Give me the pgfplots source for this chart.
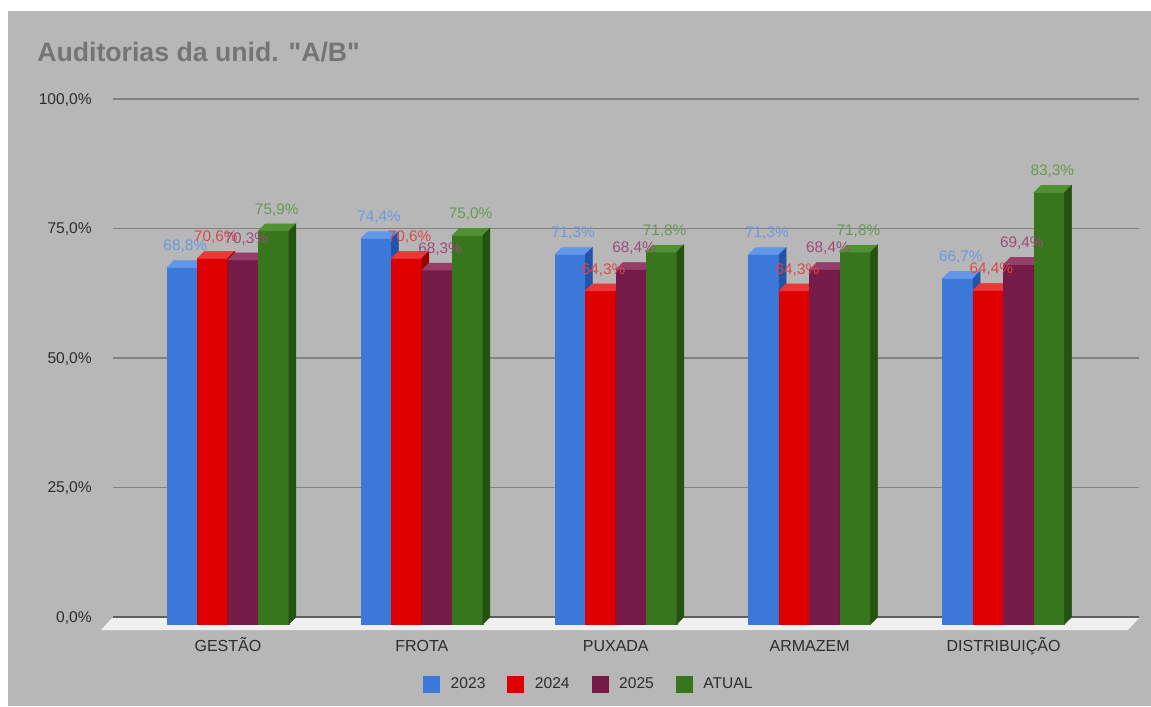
\documentclass[border=0pt]{standalone}
\usepackage{pgfplots}
\pgfplotsset{compat=1.18}
\usepackage{pgfplotstable}
\usepackage{fontspec}
\setmainfont{Liberation Sans}
\newfontfamily\titlefont[Ligatures=ResetAll]{Liberation Sans}

\definecolor{bggray}{RGB}{183,183,183}
\definecolor{floorc}{RGB}{240,240,240}
\definecolor{gridc}{RGB}{130,130,130}
\definecolor{zeroc}{RGB}{95,95,95}
\definecolor{titlec}{RGB}{117,117,117}
\definecolor{textc}{RGB}{45,45,45}
% blue
\definecolor{bF}{RGB}{60,120,216}
\definecolor{bT}{RGB}{98,150,232}
\definecolor{bS}{RGB}{35,84,165}
\definecolor{bL}{RGB}{110,152,228}
% red
\definecolor{rF}{RGB}{222,0,0}
\definecolor{rT}{RGB}{236,55,55}
\definecolor{rS}{RGB}{150,0,0}
\definecolor{rL}{RGB}{220,72,72}
% purple
\definecolor{pF}{RGB}{116,27,71}
\definecolor{pT}{RGB}{148,62,105}
\definecolor{pS}{RGB}{76,14,45}
\definecolor{pL}{RGB}{156,76,118}
% green
\definecolor{gF}{RGB}{56,118,29}
\definecolor{gT}{RGB}{80,145,50}
\definecolor{gS}{RGB}{36,82,16}
\definecolor{gL}{RGB}{104,152,82}

\pgfplotstableread{
x v
0 68.8
1 74.4
2 71.3
3 71.3
4 66.7
}\tA
\pgfplotstableread{
x v
0 70.6
1 70.6
2 64.3
3 64.3
4 64.4
}\tB
\pgfplotstableread{
x v
0 70.3
1 68.3
2 68.4
3 68.4
4 69.4
}\tC
\pgfplotstableread{
x v
0 75.9
1 75.0
2 71.8
3 71.8
4 83.3
}\tD

\pgfdeclareplotmark{void}{}
% bar width 22.875pt, depth dx=dy=5.25pt, y unit 3.885pt per % (100% = 388.5pt)
\pgfplotsset{
  bar3d/.style 2 args={
    scatter, only marks, mark=void, point meta=y,
    point meta min=0, point meta max=100,
    scatter/@pre marker code/.code={%
      \scope
      \edef\hh{\the\dimexpr \pgfplotspointmetatransformed pt * 777 / 2000\relax}%
      \edef\xl{\the\dimexpr #2pt-16.6875pt\relax}%
      \edef\xr{\the\dimexpr #2pt+6.1875pt\relax}%
      \edef\xrr{\the\dimexpr #2pt+11.4375pt\relax}%
      \edef\xll{\the\dimexpr #2pt-11.4375pt\relax}%
      \fill[#1F] (\xl,{-\hh-5.25pt}) rectangle (\xr,-5.25pt);
      \fill[#1T] (\xl,-5.25pt) -- (\xr,-5.25pt) -- (\xrr,0pt) -- (\xll,0pt) -- cycle;
      \fill[#1S] (\xr,-5.25pt) -- (\xrr,0pt) -- (\xrr,-\hh) -- (\xr,{-\hh-5.25pt}) -- cycle;
    },
    scatter/@post marker code/.code={\endscope},
    legend image code/.code={\fill[#1F] (0pt,-6.5pt) rectangle (12pt,5.5pt);},
  },
  vlab/.style 2 args={
    only marks, mark=void, forget plot, point meta=y,
    nodes near coords={\pgfmathprintnumber[fixed,fixed zerofill,precision=1,use comma]{\pgfplotspointmeta}\%},
    every node near coord/.append style={anchor=south, text depth=0pt, inner sep=0pt,
      xshift=#2pt-3pt, yshift=7.1pt, font=\fontsize{11.5}{13}\selectfont, text=#1L},
  },
}

\begin{document}
\begin{tikzpicture}
% background
\fill[white] (0pt,0pt) rectangle (863.25pt,-529.5pt);
\fill[bggray] (6pt,-8.25pt) rectangle (863.25pt,-529.5pt);
% title
\node[anchor=base west, inner sep=0pt, text=titlec, font=\fontsize{20}{24}\selectfont\titlefont\bfseries]
  at (27.75pt,-46.5pt) {Auditorias da unid. "A/B"};
% floor
\fill[floorc] (84pt,-463.5pt) -- (854.25pt,-463.5pt) -- (846pt,-472.5pt) -- (75.75pt,-472.5pt) -- cycle;

\begin{axis}[
  at={(84.75pt,-462.75pt)}, anchor=south west,
  x=145.425pt, y=3.885pt,
  xmin=-0.629, xmax=4.662, ymin=0, ymax=100,
  clip=false,
  axis line style={draw=none},
  major tick length=0pt,
  xtick={0,1,2,3,4},
  xticklabels={GESTÃO,FROTA,PUXADA,ARMAZEM,DISTRIBUIÇÃO},
  ytick={0,25,50,75,100},
  ymajorgrids,
  grid style={draw=gridc, line width=0.9pt},
  /pgf/number format/assume math mode=true,
  yticklabel={\pgfmathprintnumber[fixed,fixed zerofill,precision=1,use comma]{\tick}\%},
  yticklabel style={anchor=east, text depth=0pt, inner sep=0pt, xshift=-15.75pt,
    font=\fontsize{11.7}{14}\selectfont, text=textc},
  xticklabel style={anchor=north, text height=8.4pt, text depth=0pt, inner sep=0pt,
    xshift=-5.25pt, yshift=-17.25pt, font=\fontsize{12}{14}\selectfont, text=textc},
  legend columns=4,
  legend style={draw=none, fill=none, at={(0.3021,-0.1303)}, anchor=west, inner sep=0pt,
    nodes={inner sep=0pt, font=\fontsize{11.7}{14}\selectfont, text=textc},
    /tikz/every odd column/.append style={column sep=8.25pt},
    /tikz/every even column/.append style={column sep=16.5pt}},
]
\draw[zeroc, line width=1pt] (rel axis cs:0,0) -- (rel axis cs:1,0);
\addplot[bar3d={b}{-34.3125}] table[x=x,y=v] {\tA};
\addlegendentry{2023}
\addplot[bar3d={r}{-11.4375}] table[x=x,y=v] {\tB};
\addlegendentry{2024}
\addplot[bar3d={p}{11.4375}] table[x=x,y=v] {\tC};
\addlegendentry{2025}
\addplot[bar3d={g}{34.3125}] table[x=x,y=v] {\tD};
\addlegendentry{ATUAL}
\addplot[vlab={b}{-34.3125}] table[x=x,y=v] {\tA};
\addplot[vlab={r}{-11.4375}] table[x=x,y=v] {\tB};
\addplot[vlab={p}{11.4375}] table[x=x,y=v] {\tC};
\addplot[vlab={g}{34.3125}] table[x=x,y=v] {\tD};
\end{axis}
\end{tikzpicture}
\end{document}
